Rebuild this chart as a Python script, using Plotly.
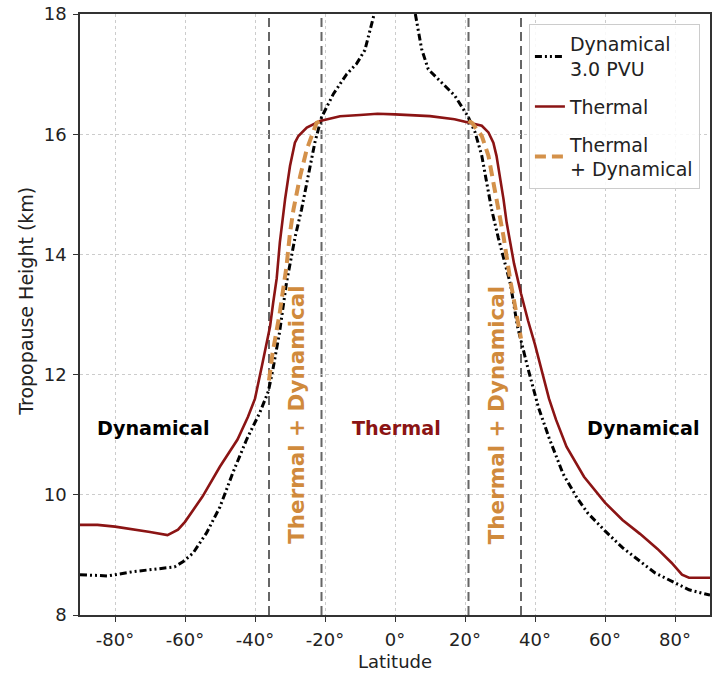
import plotly.graph_objects as go

# ---- data ----
lat_thermal = [-90, -85, -80, -75, -70, -65, -62, -60, -55, -50, -45, -42, -40, -38, -35.7, -34.8,
               -33.8, -32.9, -32.4, -31.4, -30, -29.3, -28.6, -27.6, -25.2, -21.4, -15.7, -10, -5,
               0, 5, 10, 17, 21, 24.8, 26.7, 28.1, 29, 30, 31, 31.9, 32.9, 34, 36, 38, 40, 42, 44,
               46, 49, 54, 60, 65, 70, 75, 79, 82, 84, 90]
h_thermal = [9.5, 9.5, 9.47, 9.43, 9.38, 9.33, 9.42, 9.55, 9.97, 10.47, 10.92, 11.3, 11.6, 12.15,
             12.8, 13.2, 13.6, 14.2, 14.47, 14.92, 15.47, 15.7, 15.86, 15.97, 16.11, 16.22, 16.3,
             16.32, 16.34, 16.33, 16.32, 16.3, 16.25, 16.2, 16.14, 16.03, 15.86, 15.64, 15.3,
             14.92, 14.53, 14.22, 13.85, 13.35, 12.9, 12.5, 12.05, 11.6, 11.25, 10.8, 10.3, 9.87,
             9.58, 9.35, 9.1, 8.87, 8.67, 8.62, 8.62]

lat_dyn = [-90, -85, -82, -75, -67, -63, -60.5, -57.7, -53.8, -50, -46.3, -42.4, -38.6, -36.2,
           -35, -34, -33, -31, -28.5, -26.7, -24.8, -22.9, -21, -17.6, -13.8, -11, -8.6, -6.7,
           -5.5, -4, 0, 4, 5.5, 7.6, 9.5, 13.3, 17.1, 21, 22.9, 24.8, 26.2, 27.6, 29.5, 31, 33,
           35, 36, 38, 41, 44, 48, 52, 55, 60, 65, 74.3, 84, 90]
h_dyn = [8.67, 8.66, 8.65, 8.72, 8.77, 8.8, 8.89, 9.03, 9.37, 9.8, 10.37, 10.92, 11.37, 11.72,
         12.05, 12.35, 12.7, 13.53, 14.3, 14.75, 15.3, 15.86, 16.28, 16.67, 17.0, 17.17, 17.4,
         17.8, 18.1, 18.8, 19.5, 18.8, 18.1, 17.42, 17.08, 16.86, 16.64, 16.28, 16.03, 15.64,
         15.2, 14.75, 14.28, 13.95, 13.5, 12.8, 12.55, 12.1, 11.45, 10.95, 10.35, 9.95, 9.7,
         9.4, 9.12, 8.7, 8.42, 8.33]

lat_td_south = [-36, -35, -33, -31, -30, -29, -27.1, -25.2, -22.4, -21]
h_td_south = [11.9, 12.35, 13.0, 13.8, 14.36, 14.75, 15.3, 15.75, 16.19, 16.22]
lat_td_north = [21, 22, 24.8, 26.7, 28.1, 29.5, 31, 33, 35, 36]
h_td_north = [16.22, 16.19, 15.97, 15.64, 15.2, 14.75, 14.3, 13.55, 12.85, 12.6]

boundary_lats = [-36, -21, 21, 36]
x_tick_vals = [-80, -60, -40, -20, 0, 20, 40, 60, 80]
x_tick_text = ["-80°", "-60°", "-40°", "-20°", "0°", "20°", "40°", "60°", "80°"]
y_tick_vals = [8, 10, 12, 14, 16, 18]

region_labels = ["Dynamical", "Thermal", "Dynamical"]
region_lats = [-69, 0.4, 71]
region_height = 11.1
td_label = "Thermal + Dynamical"
td_label_lats = [-28.0, 29.0]
td_label_height = 11.33

# ---- style ----
C_THERM = "#8B1414"
C_TD = "#D4914A"
C_TD_TEXT = "#D08A3C"
FONT = "DejaVu Sans"

fig = go.Figure()

fig.add_trace(go.Scatter(
    x=lat_dyn, y=h_dyn, mode="lines", name="Dynamical<br>3.0 PVU",
    line=dict(color="black", width=3, dash="7px,3px,2px,3px,2px,3px"),
))
fig.add_trace(go.Scatter(
    x=lat_thermal, y=h_thermal, mode="lines", name="Thermal",
    line=dict(color=C_THERM, width=2.6),
))
fig.add_trace(go.Scatter(
    x=lat_td_south, y=h_td_south, mode="lines", name="Thermal<br>+ Dynamical",
    line=dict(color=C_TD, width=4, dash="11px,6px"), legendgroup="td",
))
fig.add_trace(go.Scatter(
    x=lat_td_north, y=h_td_north, mode="lines", name="Thermal + Dynamical",
    line=dict(color=C_TD, width=4, dash="11px,6px"), legendgroup="td", showlegend=False,
))

for b in boundary_lats:
    fig.add_vline(x=b, line=dict(color="#666666", width=2, dash="9px,5px"), layer="below")

for lab, lat in zip(region_labels, region_lats):
    fig.add_annotation(
        x=lat, y=region_height, text=f"<b>{lab}</b>", showarrow=False,
        font=dict(family=FONT, size=19.2, color=C_THERM if lab == "Thermal" else "black"),
    )
for lat in td_label_lats:
    fig.add_annotation(
        x=lat, y=td_label_height, text=f"<b>{td_label}</b>", showarrow=False, textangle=-90,
        font=dict(family=FONT, size=21.5, color=C_TD_TEXT),
    )

# y-axis title placed as paper annotation (slightly above plot centre, as in reference)
fig.add_annotation(
    xref="paper", yref="paper", x=-0.086, y=0.5225, xanchor="center", yanchor="middle",
    text="Tropopause Height (km)", showarrow=False, textangle=-90,
    font=dict(family=FONT, size=19, color="#222222"),
)

axis_common = dict(
    showline=True, linecolor="#333333", linewidth=1.5, mirror=True,
    ticks="outside", ticklen=5, tickcolor="#333333", ticklabelstandoff=3,
    showgrid=True, gridcolor="#cccccc", griddash="dot", gridwidth=1,
    zeroline=False, tickfont=dict(family=FONT, size=18, color="#222222"),
    automargin=False,
)

fig.update_xaxes(
    range=[-90, 90], tickvals=x_tick_vals, ticktext=x_tick_text,
    title=dict(text="Latitude", font=dict(family=FONT, size=18, color="#222222"), standoff=6),
    **axis_common,
)
fig.update_yaxes(range=[8, 18], tickvals=y_tick_vals, **axis_common)

fig.update_layout(
    width=715, height=676,
    margin=dict(l=80, r=5, t=14, b=61),
    plot_bgcolor="white", paper_bgcolor="white",
    font=dict(family=FONT, size=18, color="#222222"),
    legend=dict(
        x=0.984, y=0.983, xanchor="right", yanchor="top",
        bgcolor="rgba(255,255,255,0.85)", bordercolor="#cccccc", borderwidth=1,
        font=dict(family=FONT, size=19, color="#222222"),
    ),
    showlegend=True,
)

fig.write_html(
    "out.html",
    config={"displayModeBar": False},
    post_script="document.body.style.margin='0';document.body.style.overflow='hidden';",
)
